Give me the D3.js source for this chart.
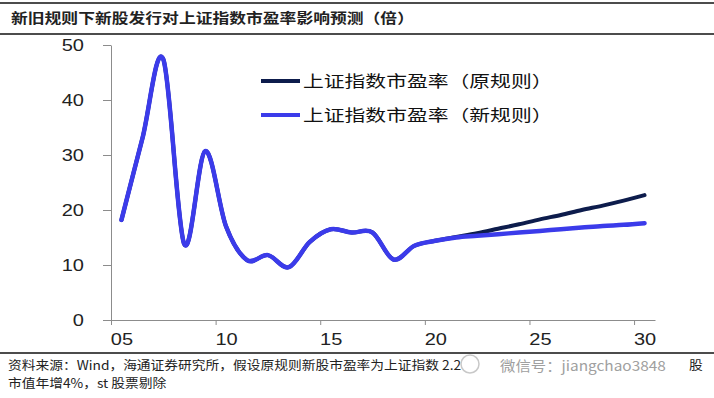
<!DOCTYPE html>
<html>
<head>
    <meta charset="utf-8">
    <script src="https://d3js.org/d3.v7.min.js"></script>
    <style>
        body { margin: 0; background: #fff; }
        svg { display: block; }
        .axis path, .axis line { stroke: #8c8c8c; stroke-width: 1px; }
        .axis text { font-family: "Liberation Sans", Arial, sans-serif; font-size: 16px; fill: #222; }
        .cjk { font-family: "Noto Sans CJK SC", sans-serif; }
    </style>
</head>
<body>
    <svg width="714" height="398"></svg>
    <script>
        // data: yearly P/E of the Shanghai index, history then two forecasts
        var years = d3.range(2005, 2031);
        var peOld = [18.2, 33, 47.4, 13.8, 30.7, 17, 10.9, 11.8, 9.6, 14.2, 16.5, 15.9, 15.9, 11.0, 13.5, 14.4,
                     15.1, 15.8, 16.6, 17.4, 18.3, 19.1, 20.0, 20.8, 21.7, 22.7];
        var peNew = [18.2, 33, 47.4, 13.8, 30.7, 17, 10.9, 11.8, 9.6, 14.2, 16.5, 15.9, 15.9, 11.0, 13.5, 14.4,
                     15.0, 15.3, 15.6, 15.9, 16.2, 16.5, 16.8, 17.1, 17.3, 17.6];
        var yTicks = [0, 10, 20, 30, 40, 50];
        var xTicks = [2005, 2010, 2015, 2020, 2025, 2030];
        var seriesNames = ["上证指数市盈率（原规则）", "上证指数市盈率（新规则）"];
        var seriesColors = ["#0d1c4c", "#3b3bea"];

        var svg = d3.select("svg");

        var x = d3.scaleLinear().domain([2004.5, 2030.5]).range([111, 655]);
        var y = d3.scaleLinear().domain([0, 50]).range([320, 45]);

        // title with rules above and below
        svg.append("line").attr("x1", 0).attr("x2", 714).attr("y1", 3).attr("y2", 3)
            .attr("stroke", "#111").attr("stroke-width", 1.5);
        svg.append("line").attr("x1", 0).attr("x2", 714).attr("y1", 34).attr("y2", 34)
            .attr("stroke", "#111").attr("stroke-width", 1.5);
        svg.append("text")
            .attr("class", "cjk")
            .attr("transform", "translate(11,23) scale(1.2,1)")
            .style("font-size", "14px")
            .style("font-weight", "bold")
            .style("fill", "#222")
            .text("新旧规则下新股发行对上证指数市盈率影响预测（倍）");

        // y axis
        var yAxis = svg.append("g")
            .attr("class", "axis")
            .attr("transform", "translate(111,0)")
            .call(d3.axisLeft(y).tickValues(yTicks).tickSize(8).tickSizeOuter(0));
        yAxis.selectAll("text")
            .attr("x", null)
            .attr("text-anchor", "end")
            .attr("transform", "translate(-27,0) scale(1.25,1)");

        // x axis: tick marks sit between years, labels on the years
        svg.append("g")
            .attr("class", "axis")
            .attr("transform", "translate(0,320)")
            .call(d3.axisBottom(x).tickValues(xTicks.map(function(d) { return d - 0.5; }))
                .tickSize(5).tickSizeOuter(0).tickFormat(""));
        var xLabels = svg.append("g")
            .attr("class", "axis")
            .attr("transform", "translate(0,320)")
            .call(d3.axisBottom(x).tickValues(xTicks).tickSize(0)
                .tickFormat(function(d) { return String(d).slice(2); }));
        xLabels.select(".domain").remove();
        xLabels.selectAll("text")
            .attr("y", null).attr("dy", null)
            .attr("transform", "translate(0,25) scale(1.25,1)");

        // lines
        var line = d3.line()
            .x(function(d, i) { return x(years[i]); })
            .y(function(d) { return y(d); })
            .curve(d3.curveCatmullRom.alpha(0));

        svg.append("path")
            .attr("d", line(peOld))
            .attr("fill", "none")
            .attr("stroke", seriesColors[0])
            .attr("stroke-width", 4)
            .attr("stroke-linecap", "round");
        svg.append("path")
            .attr("d", line(peNew))
            .attr("fill", "none")
            .attr("stroke", seriesColors[1])
            .attr("stroke-width", 4.5)
            .attr("stroke-linecap", "round");

        // legend
        var legend = svg.selectAll(".legend")
            .data(seriesNames)
            .enter().append("g")
            .attr("class", "legend")
            .attr("transform", function(d, i) { return "translate(261," + (81 + i * 34) + ")"; });
        legend.append("line")
            .attr("x1", 0).attr("x2", 39)
            .attr("stroke", function(d, i) { return seriesColors[i]; })
            .attr("stroke-width", 4);
        legend.append("text")
            .attr("class", "cjk")
            .attr("transform", "translate(42,6) scale(1.3,1)")
            .style("font-size", "16px")
            .style("fill", "#111")
            .text(function(d) { return d; });

        // source note
        svg.append("line").attr("x1", 0).attr("x2", 714).attr("y1", 353).attr("y2", 353)
            .attr("stroke", "#111").attr("stroke-width", 1.5);
        svg.append("text")
            .attr("class", "cjk")
            .attr("transform", "translate(8,370) scale(1.1,1)")
            .style("font-size", "12.5px")
            .style("fill", "#222")
            .text("资料来源：Wind，海通证券研究所，假设原规则新股市盈率为上证指数 2.2");
        svg.append("circle")
            .attr("cx", 470).attr("cy", 364).attr("r", 9)
            .attr("fill", "none").attr("stroke", "#c8c8c8").attr("stroke-width", 1.5);
        svg.append("text")
            .attr("class", "cjk")
            .attr("transform", "translate(500,371) scale(1.1,1)")
            .style("font-size", "14px")
            .style("fill", "#a0a0a0")
            .text("微信号：jiangchao3848");
        svg.append("text")
            .attr("class", "cjk")
            .attr("transform", "translate(689,370) scale(1.1,1)")
            .style("font-size", "12.5px")
            .style("fill", "#222")
            .text("股");
        svg.append("text")
            .attr("class", "cjk")
            .attr("transform", "translate(8,388) scale(1.1,1)")
            .style("font-size", "12.5px")
            .style("fill", "#222")
            .text("市值年增4%，st 股票剔除");
    </script>
</body>
</html>
